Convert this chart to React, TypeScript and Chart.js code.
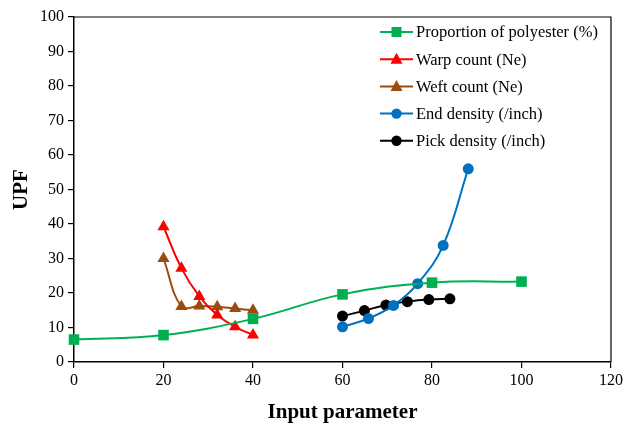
import React, { useEffect, useRef } from "react";
import { Chart, registerables } from "chart.js";

Chart.register(...registerables);

const polyX = [0, 20, 40, 60, 80, 100];
const polyY = [6.5, 7.8, 12.5, 19.6, 23.0, 23.3];
const warpX = [20, 24, 28, 32, 36, 40];
const warpY = [39.2, 27.2, 19.0, 13.6, 10.2, 7.8];
const weftX = [20, 24, 28, 32, 36, 40];
const weftY = [30.0, 16.1, 16.2, 16.0, 15.5, 15.0];
const endX = [60, 65.8, 71.4, 76.8, 82.5, 88.1];
const endY = [10.2, 12.6, 16.4, 22.7, 33.8, 56.0];
const pickX = [60, 64.9, 69.7, 74.5, 79.3, 84];
const pickY = [13.3, 14.9, 16.5, 17.5, 18.1, 18.3];

const xTicks = [0, 20, 40, 60, 80, 100, 120];
const yTicks = [0, 10, 20, 30, 40, 50, 60, 70, 80, 90, 100];

const seriesNames = [
  "Proportion of polyester (%)",
  "Warp count (Ne)",
  "Weft count (Ne)",
  "End density (/inch)",
  "Pick density (/inch)",
];

const pts = (xs: number[], ys: number[]) => xs.map((x, i) => ({ x, y: ys[i] }));

const SERIF = "'Liberation Serif', 'Times New Roman', serif";

const legendPlugin = {
  id: "customLegend",
  afterDraw(chart: any) {
    const ctx = chart.ctx;
    const area = chart.chartArea;
    ctx.save();
    ctx.strokeStyle = "#000";
    ctx.lineWidth = 1.2;
    ctx.beginPath();
    ctx.moveTo(area.left, area.top);
    ctx.lineTo(area.right, area.top);
    ctx.lineTo(area.right, area.bottom);
    ctx.stroke();

    const x0 = 380;
    const x1 = 413;
    const y0 = 32;
    const dy = 27.2;
    chart.data.datasets.forEach((ds: any, i: number) => {
      const y = y0 + i * dy;
      ctx.strokeStyle = ds.borderColor;
      ctx.lineWidth = 2;
      ctx.beginPath();
      ctx.moveTo(x0, y);
      ctx.lineTo(x1, y);
      ctx.stroke();
      const cx = (x0 + x1) / 2;
      ctx.fillStyle = ds.backgroundColor;
      ctx.beginPath();
      if (ds.pointStyle === "rect") {
        ctx.rect(cx - 5, y - 5, 10, 10);
      } else if (ds.pointStyle === "triangle") {
        ctx.moveTo(cx, y - 6.5);
        ctx.lineTo(cx + 6, y + 4.5);
        ctx.lineTo(cx - 6, y + 4.5);
        ctx.closePath();
      } else {
        ctx.arc(cx, y, 5.2, 0, Math.PI * 2);
      }
      ctx.fill();
      ctx.fillStyle = "#000";
      ctx.font = `16.5px ${SERIF}`;
      ctx.textBaseline = "middle";
      ctx.textAlign = "left";
      ctx.fillText(ds.label, x1 + 3, y + 1);
    });
    ctx.restore();
  },
};

export default function App() {
  const ref = useRef<HTMLCanvasElement | null>(null);
  useEffect(() => {
    if (!ref.current) return;
    const mk = (label: string, xs: number[], ys: number[], color: string, style: string, r: number) => ({
      label,
      data: pts(xs, ys),
      borderColor: color,
      backgroundColor: color,
      pointBackgroundColor: color,
      pointBorderColor: color,
      pointStyle: style,
      pointRadius: r,
      pointBorderWidth: 0,
      borderWidth: 2,
      tension: 0.4,
      showLine: true,
      fill: false,
      clip: false,
    });
    const chart = new Chart(ref.current, {
      type: "scatter",
      data: {
        datasets: [
          mk(seriesNames[0], polyX, polyY, "#00B050", "rect", 7.5),
          mk(seriesNames[1], warpX, warpY, "#FF0000", "triangle", 7),
          mk(seriesNames[2], weftX, weftY, "#9C4A0E", "triangle", 7),
          mk(seriesNames[3], endX, endY, "#0070C0", "circle", 5.5),
          mk(seriesNames[4], pickX, pickY, "#000000", "circle", 5.5),
        ] as any,
      },
      options: {
        animation: false,
        responsive: false,
        layout: { padding: { top: 17, right: 15, left: 0, bottom: 0 } },
        plugins: { legend: { display: false }, tooltip: { enabled: false } },
        scales: {
          x: {
            type: "linear",
            min: 0,
            max: 120,
            afterBuildTicks: (s: any) => {
              s.ticks = xTicks.map((v) => ({ value: v }));
            },
            afterFit: (s: any) => {
              s.height = 63;
            },
            ticks: { color: "#000", font: { family: SERIF, size: 16 }, padding: 3, maxRotation: 0 },
            grid: { drawOnChartArea: false, tickLength: 6, color: "#000", lineWidth: 1.2 },
            border: { color: "#000", width: 1.5 },
            title: {
              display: true,
              text: "Input parameter",
              color: "#000",
              font: { family: SERIF, size: 21, weight: "bold" },
              padding: { top: 4, bottom: 0 },
            },
          },
          y: {
            type: "linear",
            min: 0,
            max: 100,
            afterBuildTicks: (s: any) => {
              s.ticks = yTicks.map((v) => ({ value: v }));
            },
            afterFit: (s: any) => {
              s.width = 74;
            },
            ticks: { color: "#000", font: { family: SERIF, size: 16 }, padding: 4 },
            grid: { drawOnChartArea: false, tickLength: 6, color: "#000", lineWidth: 1.2 },
            border: { color: "#000", width: 1.5 },
            title: {
              display: true,
              text: "UPF",
              color: "#000",
              font: { family: SERIF, size: 21, weight: "bold" },
              padding: { top: 9, bottom: 0 },
            },
          },
        },
      } as any,
      plugins: [legendPlugin],
    });
    return () => chart.destroy();
  }, []);
  return (
    <div style={{ position: "fixed", left: 0, top: 0, width: 626, height: 425, background: "#fff" }}>
      <canvas ref={ref} width={626} height={425} style={{ width: 626, height: 425 }} />
    </div>
  );
}
